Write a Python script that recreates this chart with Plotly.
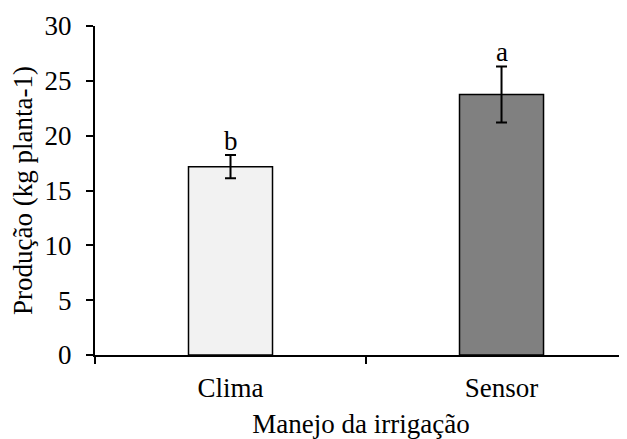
import plotly.graph_objects as go

categories = ["Clima", "Sensor"]
means = [17.17, 23.76]
errors = [1.06, 2.55]
letters = ["b", "a"]
colors = ["#f2f2f2", "#808080"]
y_ticks = [0, 5, 10, 15, 20, 25, 30]

FONT = "Liberation Serif"
FS = 27

fig = go.Figure()
fig.add_trace(go.Bar(
    x=categories, y=means, width=0.31,
    marker=dict(color=colors, line=dict(color="black", width=1.5)),
    error_y=dict(type="data", array=errors, visible=True, color="black", thickness=2, width=5.5),
))

for c, m, e, l in zip(categories, means, errors, letters):
    fig.add_annotation(x=c, y=m + e, text=l, showarrow=False, yanchor="bottom",
                       font=dict(family=FONT, size=FS, color="black"), yshift=-3)

# page body has an 8px margin: figure sized to fill the rest of the window
fig.update_layout(
    width=619, height=431,
    margin=dict(l=87, r=0, t=18, b=84),
    paper_bgcolor="white", plot_bgcolor="white",
    showlegend=False,
    font=dict(family=FONT, size=FS, color="black"),
    xaxis=dict(
        range=[-0.5, 1.463], showline=True, linecolor="black", linewidth=2,
        ticks="outside", tickson="boundaries", ticklen=7, tickwidth=2, tickcolor="black",
        ticklabelstandoff=8,
        title=dict(text="Manejo da irrigação", standoff=14, font=dict(family=FONT, size=FS)),
        tickfont=dict(family=FONT, size=FS), showgrid=False, zeroline=False, automargin=False,
    ),
    yaxis=dict(
        range=[0, 30], tickvals=y_ticks, showline=True, linecolor="black", linewidth=2,
        ticks="outside", ticklen=7, tickwidth=2, tickcolor="black",
        ticklabelstandoff=9,
        title=dict(text="Produção (kg planta-1)", standoff=10, font=dict(family=FONT, size=FS)),
        tickfont=dict(family=FONT, size=FS), showgrid=False, zeroline=False, automargin=False,
    ),
)

fig.write_html("out.html")
